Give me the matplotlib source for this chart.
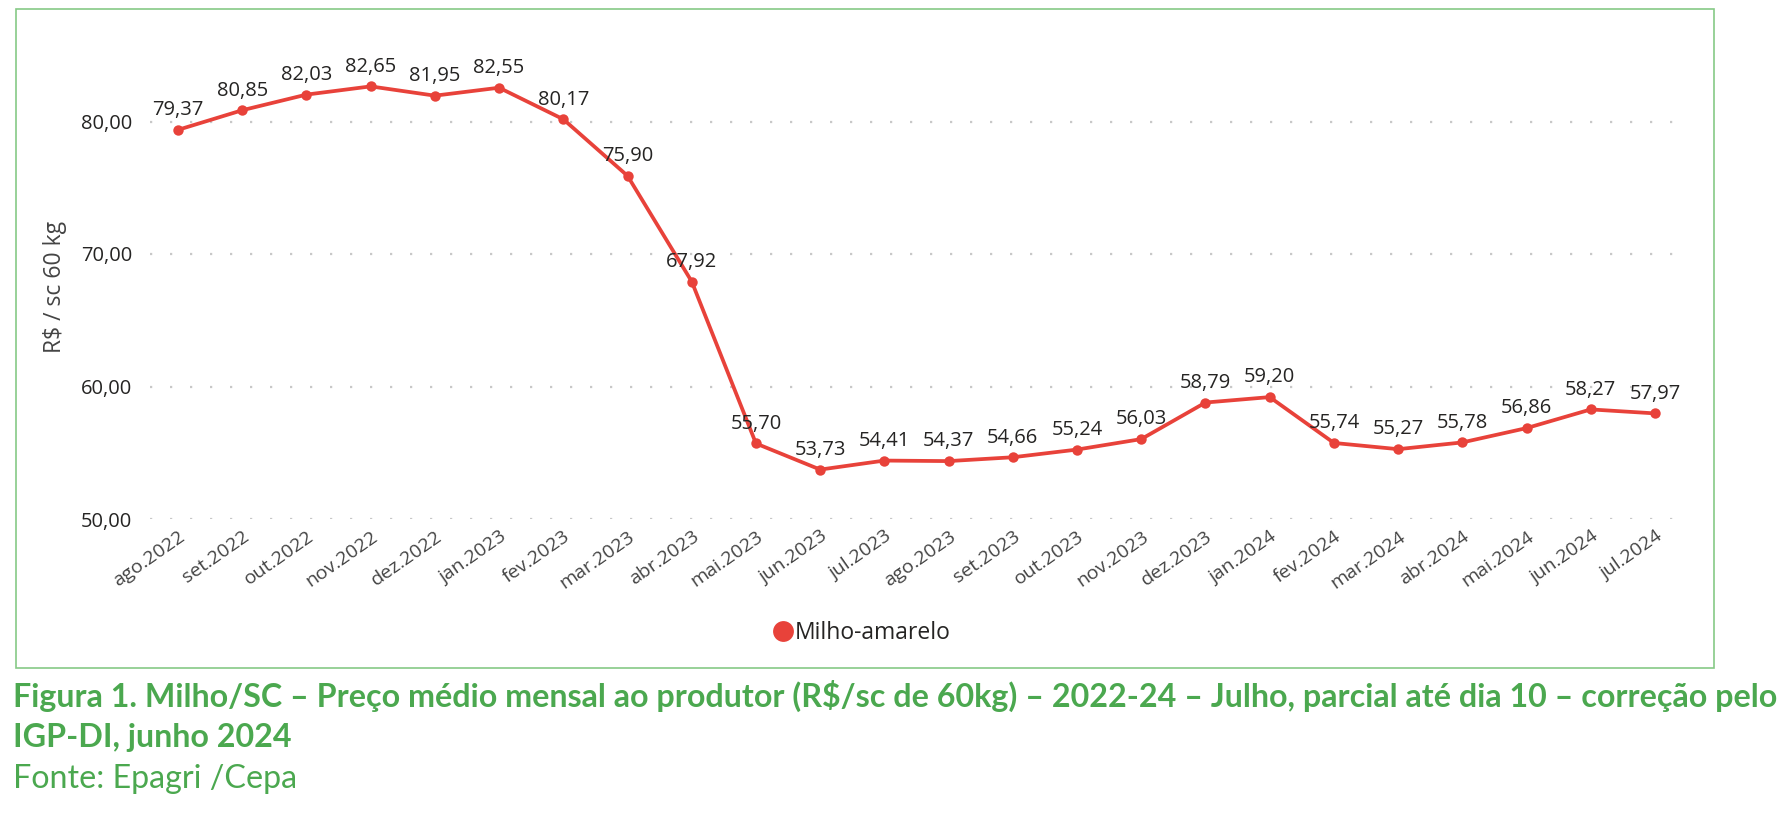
import matplotlib
matplotlib.use("Agg")
import matplotlib.pyplot as plt
from matplotlib import font_manager
from matplotlib.font_manager import FontProperties
from matplotlib.lines import Line2D
from matplotlib.patches import Rectangle

# ---------------- data ----------------
months = ["ago.2022", "set.2022", "out.2022", "nov.2022", "dez.2022", "jan.2023",
          "fev.2023", "mar.2023", "abr.2023", "mai.2023", "jun.2023", "jul.2023",
          "ago.2023", "set.2023", "out.2023", "nov.2023", "dez.2023", "jan.2024",
          "fev.2024", "mar.2024", "abr.2024", "mai.2024", "jun.2024", "jul.2024"]
prices = [79.37, 80.85, 82.03, 82.65, 81.95, 82.55, 80.17, 75.90, 67.92, 55.70,
          53.73, 54.41, 54.37, 54.66, 55.24, 56.03, 58.79, 59.20, 55.74, 55.27,
          55.78, 56.86, 58.27, 57.97]
y_ticks = [50, 60, 70, 80]
series_name = "Milho-amarelo"
y_title = "R$ / sc 60 kg"
caption_1 = ("Figura 1. Milho/SC \u2013 Pre\u00e7o m\u00e9dio mensal ao produtor (R$/sc de 60kg) "
             "\u2013 2022-24 \u2013 Julho, parcial at\u00e9 dia 10 \u2013 corre\u00e7\u00e3o pelo")
caption_2 = "IGP-DI, junho 2024"
source = "Fonte: Epagri /Cepa"

def fmt(v):
    return f"{v:.2f}".replace(".", ",")

# ---------------- figure ----------------
W, H = 1780, 818
fig = plt.figure(figsize=(W / 100, H / 100), dpi=100)
fig.patch.set_facecolor("white")

def fx(px):
    return px / W

def fy(py):
    return 1 - py / H

def pick_font(names):
    for n in names:
        try:
            font_manager.findfont(FontProperties(family=n), fallback_to_default=False)
            return n
        except Exception:
            continue
    return "DejaVu Sans"

chart_font = pick_font(["Open Sans", "Noto Sans", "DejaVu Sans"])
cap_font = pick_font(["Lato", "Open Sans", "Noto Sans"])

RED = "#e8423a"
TXT = "#252423"
GREEN = "#4ba84f"

# axes placement in pixels
left_px, right_px = 150, 1678
y50_px = 519
px_per_unit = 13.25
ymin, ymax = 50, 85
top_px = y50_px - (ymax - ymin) * px_per_unit
ax = fig.add_axes([fx(left_px), fy(y50_px), fx(right_px - left_px), (y50_px - top_px) / H])

first_px, last_px = 178, 1655
xs = list(range(len(months)))
unit = (last_px - first_px) / (len(months) - 1)
ax.set_xlim(-(first_px - left_px) / unit, (len(months) - 1) + (right_px - last_px) / unit)
ax.set_ylim(ymin, ymax)

for s in ax.spines.values():
    s.set_visible(False)

ax.set_yticks(y_ticks)
ax.set_yticklabels([fmt(v) for v in y_ticks], fontsize=14.5, color=TXT, family=chart_font)
ax.tick_params(axis="y", length=0, pad=13)
ax.yaxis.grid(True, color="#c8c8c8", linestyle=(0, (1, 8)), linewidth=1.6)
ax.set_axisbelow(True)

ax.set_xticks(xs)
ax.set_xticklabels(months, rotation=35, ha="right", va="top", rotation_mode="anchor",
                   fontsize=14, color="#444444", family=chart_font)
ax.tick_params(axis="x", length=0, pad=6)

ax.plot(xs, prices, color=RED, linewidth=2.7, marker="o", markersize=7.5,
        markeredgewidth=0, clip_on=False, zorder=3)

for x, v in zip(xs, prices):
    ax.annotate(fmt(v), (x, v), xytext=(0, 7), textcoords="offset points",
                ha="center", va="bottom", fontsize=14.5, color=TXT, family=chart_font,
                zorder=4)

fig.text(fx(55), fy(287), y_title, rotation=90, ha="center", va="center",
         fontsize=16.5, color="#444444", family=chart_font)

# legend
handle = Line2D([], [], marker="o", color=RED, linestyle="none", markersize=15,
                markeredgewidth=0)
fig.legend([handle], [series_name], loc="center", bbox_to_anchor=(fx(862), fy(633)),
           frameon=False, handlelength=0.8, handletextpad=0.1, borderpad=0,
           prop=FontProperties(family=chart_font, size=16.5), labelcolor=TXT)

# border around chart area
fig.patches.append(Rectangle((fx(16), fy(668)), fx(1714 - 16), (668 - 9) / H,
                             transform=fig.transFigure, fill=False,
                             edgecolor="#86c986", linewidth=1.2))

# caption (fit line 1 width)
fs = 20
t1 = fig.text(fx(13), fy(707), caption_1, ha="left", va="baseline", fontsize=fs,
              fontweight="bold", color=GREEN, family=cap_font)
fig.canvas.draw()
w = t1.get_window_extent(renderer=fig.canvas.get_renderer()).width
fs = fs * 1760 / w
t1.set_fontsize(fs)
fig.text(fx(13), fy(747), caption_2, ha="left", va="baseline", fontsize=fs,
         fontweight="bold", color=GREEN, family=cap_font)
fig.text(fx(13), fy(788), source, ha="left", va="baseline", fontsize=fs,
         color=GREEN, family=cap_font)

fig.savefig("out.png", dpi=100, facecolor="white")
